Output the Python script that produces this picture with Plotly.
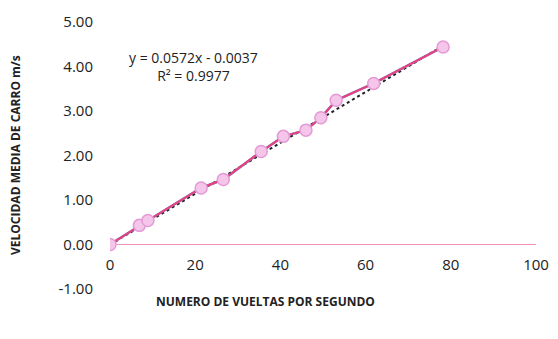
import plotly.graph_objects as go

# Data
vueltas = [0, 6.9, 8.9, 21.4, 26.6, 35.5, 40.7, 46.0, 49.5, 53.1, 61.9, 78.2]
velocidad = [0.00, 0.43, 0.54, 1.27, 1.46, 2.09, 2.43, 2.57, 2.85, 3.24, 3.62, 4.44]

# Trendline shown on the chart
slope = 0.0572
intercept = -0.0037

x_ticks = [0, 20, 40, 60, 80, 100]
y_ticks = [-1, 0, 1, 2, 3, 4, 5]
y_tick_labels = ["-1.00", "0.00", "1.00", "2.00", "3.00", "4.00", "5.00"]

trend_x = [min(vueltas), max(vueltas)]
trend_y = [slope * v + intercept for v in trend_x]

font_family = "Open Sans, Liberation Sans, sans-serif"

PLOT_L, PLOT_W, PLOT_T, PLOT_H = 110, 426, 22, 267


def px(x):
    return (x - PLOT_L) / PLOT_W


def py(y):
    return 1 - (y - PLOT_T) / PLOT_H


fig = go.Figure()
fig.add_trace(go.Scatter(x=trend_x, y=trend_y, mode="lines",
                         line=dict(color="#222222", width=2, dash="dot"),
                         showlegend=False, hoverinfo="skip"))
fig.add_trace(go.Scatter(x=vueltas, y=velocidad, mode="lines",
                         line=dict(color="#6a7fd0", width=2.5),
                         showlegend=False))
fig.add_trace(go.Scatter(x=vueltas, y=velocidad, mode="lines+markers",
                         line=dict(color="#ee3f7a", width=2),
                         marker=dict(size=12, color="#f5c6ea",
                                     line=dict(color="#e39ad6", width=1.5)),
                         showlegend=False))

fig.update_layout(
    width=550, height=323,
    margin=dict(l=102, r=22, t=14, b=42, autoexpand=False),
    paper_bgcolor="white", plot_bgcolor="white",
    font=dict(family=font_family, color="#222222"),
    xaxis=dict(range=[0, 100], tickvals=x_ticks, showgrid=False,
               zeroline=False, showline=False, ticks="", automargin=False,
               anchor="free", position=1/6, ticklabelstandoff=9,
               ticklabeloverflow="allow",
               tickfont=dict(size=15, color="#222222")),
    yaxis=dict(range=[-1, 5], tickvals=y_ticks, ticktext=y_tick_labels,
               showgrid=False, zeroline=True, zerolinecolor="#f396b4",
               zerolinewidth=1, showline=False, ticks="", automargin=False,
               ticklabelstandoff=16,
               tickfont=dict(size=15, color="#222222")),
    annotations=[
        dict(text="y = 0.0572x - 0.0037<br>R² = 0.9977", xref="paper", yref="paper",
             x=px(193), y=py(67), showarrow=False,
             xanchor="center", yanchor="middle",
             font=dict(size=14, color="#222222"), align="center"),
        dict(text="<b>NUMERO DE VUELTAS POR SEGUNDO</b>", xref="paper", yref="paper",
             x=px(265), y=py(301), showarrow=False,
             xanchor="center", yanchor="middle",
             font=dict(size=12, color="#222222")),
        dict(text="<b>VELOCIDAD MEDIA DE CARRO m/s</b>", xref="paper", yref="paper",
             x=px(15), y=py(155), showarrow=False,
             xanchor="center", yanchor="middle",
             textangle=-90, font=dict(size=12, color="#222222")),
    ],
)

fig.write_html("out.html")
